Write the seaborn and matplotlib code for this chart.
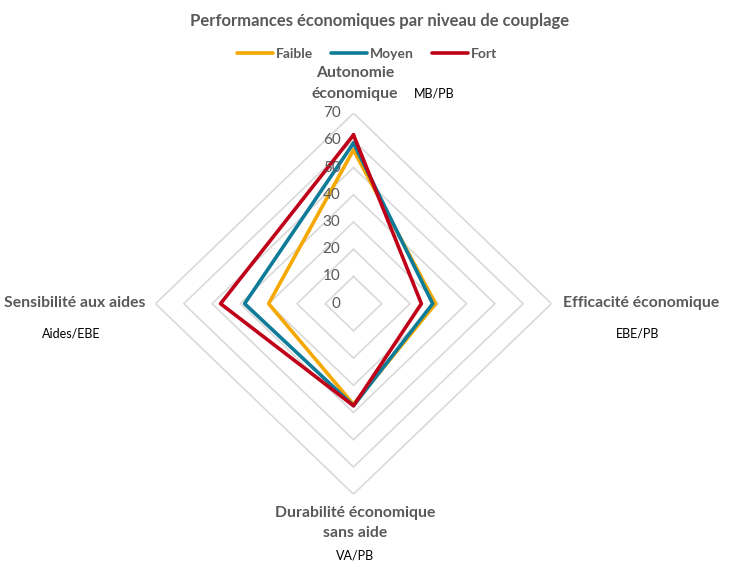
import numpy as np
import pandas as pd
import seaborn as sns
import matplotlib
matplotlib.use("Agg")
from matplotlib import pyplot as plt
from matplotlib.transforms import offset_copy

# axes of the radar (clockwise from top)
axes_names = ["Autonomie économique", "Efficacité économique",
              "Durabilité économique sans aide", "Sensibilité aux aides"]
niveaux = ["Faible", "Moyen", "Fort"]
faible = [56.5, 29, 37, 30]
moyen = [59, 28, 37.5, 38.5]
fort = [62, 24, 37.5, 47]
levels = [0, 10, 20, 30, 40, 50, 60, 70]

colors = {"Faible": "#F5A800", "Moyen": "#0E7C99", "Fort": "#C00018"}
grey = "#595959"

sns.set_theme(style="white")
plt.rcParams["font.family"] = ["Lato", "DejaVu Sans"]

angles = np.arange(len(axes_names)) * np.pi / 2
angles_closed = np.append(angles, angles[0])

rows = []
for name, vals in zip(niveaux, [faible, moyen, fort]):
    for a, v in zip(angles_closed, vals + [vals[0]]):
        rows.append({"angle": a, "valeur": v, "niveau": name})
df = pd.DataFrame(rows)

fig = plt.figure(figsize=(7.29, 5.67), dpi=100)
ax = fig.add_axes([0.2133, 0.1284, 0.5432, 0.672], projection="polar")
ax.set_aspect("auto")
ax.set_theta_offset(np.pi / 2)
ax.set_theta_direction(-1)

# diamond grid
for lv in levels[1:]:
    ax.plot(angles_closed, [lv] * len(angles_closed), color="#D9D9D9", lw=1.2, zorder=1)

sns.lineplot(data=df, x="angle", y="valeur", hue="niveau", hue_order=niveaux,
             palette=colors, sort=False, estimator=None, lw=2.6, ax=ax, zorder=3)

ax.set_ylim(0, 70)
ax.set_xticks([])
ax.set_yticks([])
ax.grid(False)
ax.spines["polar"].set_visible(False)
ax.set_xlabel("")
ax.set_ylabel("")

# radial labels
trans = offset_copy(ax.transData, fig=fig, x=-13, y=0, units="dots")
for lv in levels:
    ax.text(0, lv, str(lv), transform=trans, ha="right", va="center",
            fontsize=11, color=grey)

handles, labels = ax.get_legend_handles_labels()
ax.get_legend().remove()
fig.legend(handles, labels, loc="center", bbox_to_anchor=(367 / 729, 1 - 54 / 567),
           ncol=3, frameon=False, handlelength=2.6, columnspacing=1.3,
           handletextpad=0.2, prop={"weight": "bold", "size": 10},
           labelcolor=grey)

W, H = 729, 567


def put(x, y, s, **kw):
    fig.text(x / W, 1 - y / H, s, ha="center", va="center", **kw)


put(380, 21, "Performances économiques par niveau de couplage",
    fontsize=12, weight="bold", color=grey)
bold = dict(fontsize=11.3, weight="bold", color=grey)
unit = dict(fontsize=9, color="black")
put(355, 73, "Autonomie", **bold)
put(355, 94, "économique", **bold)
put(434, 94, "MB/PB", **unit)
put(641, 303, "Efficacité économique", **bold)
put(638, 333, "EBE/PB", **unit)
put(75, 303, "Sensibilité aux aides", **bold)
put(71, 333, "Aides/EBE", **unit)
put(355, 513, "Durabilité économique", **bold)
put(355, 533, "sans aide", **bold)
put(355, 556, "VA/PB", **unit)

fig.savefig("out.png", dpi=100)
